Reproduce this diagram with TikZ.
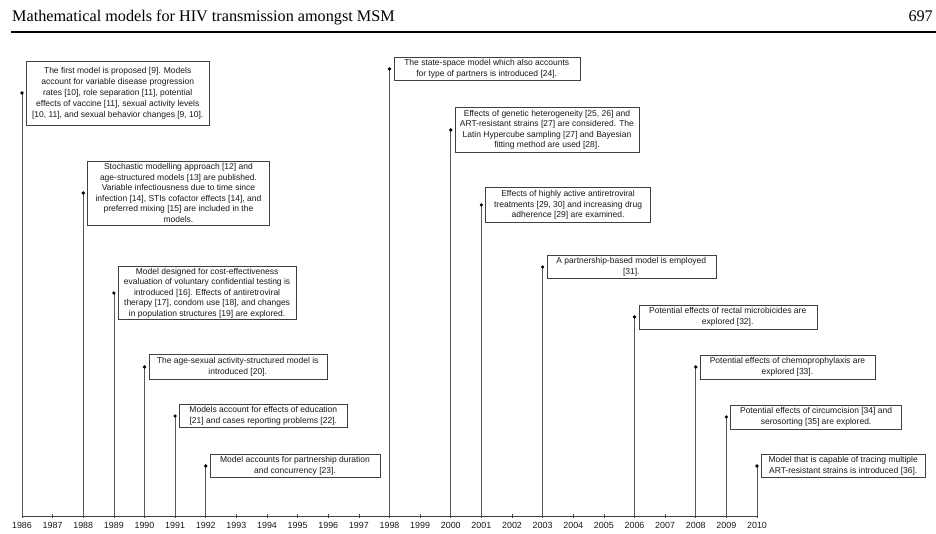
\documentclass[tikz,border=0pt]{standalone}
\usepackage{fontspec}
\setmainfont{Liberation Sans}
\newfontfamily\headfont{Liberation Serif}
\usetikzlibrary{positioning}

\begin{document}
\begin{tikzpicture}[x=1pt,y=-1pt,
   event/.style={draw=black!75,fill=white,align=center,inner sep=1pt,
      font=\fontsize{8.5}{10.5}\selectfont,text=black!90},
   stem/.style={draw=black!65,line width=0.7pt},
   yearlabel/.style={inner sep=0pt,font=\fontsize{8.9}{10}\selectfont,text=black!90}]
\useasboundingbox (0,0) rectangle (936,533);

% running head
\node[anchor=base west,inner sep=0pt,font=\headfont\fontsize{16.2}{18}\selectfont] (runhead) at (12,21)
   {Mathematical models for HIV transmission amongst MSM};
\node[anchor=base east,inner sep=0pt,font=\headfont\fontsize{16.2}{18}\selectfont] (pagenum) at (933,21) {697};
\draw[line width=2.3pt] (11,32) -- (936,32);

% time axis
\foreach \yr in {1986,...,2010} {
   \coordinate (y\yr) at ({22+(\yr-1986)*30.625},516);
   \draw[black!75,line width=0.6pt] (y\yr) ++(0,-2.5) -- ++(0,4.5);
   \node[yearlabel,below=6pt of y\yr] (l\yr) {\yr};
}
\draw[black!75,line width=0.9pt] (y1986) -- (y2010);

% anchor points of the events
\coordinate (d1986) at (y1986 |- 0,93);
\coordinate (d1988) at (y1988 |- 0,193);
\coordinate (d1989) at (y1989 |- 0,293);
\coordinate (d1990) at (y1990 |- 0,367);
\coordinate (d1991) at (y1991 |- 0,416);
\coordinate (d1992) at (y1992 |- 0,466);
\coordinate (d1998) at (y1998 |- 0,69);
\coordinate (d2000) at (y2000 |- 0,130);
\coordinate (d2001) at (y2001 |- 0,205);
\coordinate (d2003) at (y2003 |- 0,267);
\coordinate (d2006) at (y2006 |- 0,317);
\coordinate (d2008) at (y2008 |- 0,367);
\coordinate (d2009) at (y2009 |- 0,417);
\coordinate (d2010) at (y2010 |- 0,466);

\foreach \yr in {1986,1988,1989,1990,1991,1992,1998,2000,2001,2003,2006,2008,2009,2010} {
   \draw[stem] (y\yr) -- (d\yr);
   \fill (d\yr) circle[radius=1.8pt];
}

% events
\node[event,right=4pt of d1986,minimum width=183pt,minimum height=64pt,
      font=\fontsize{8.5}{10.9}\selectfont] (e1986)
   {The first model is proposed [9]. Models\\ account for variable disease progression\\
    rates [10], role separation [11], potential\\ effects of vaccine [11], sexual activity levels\\
    {[10, 11]}, and sexual behavior changes [9, 10].};
\node[event,right=4pt of d1988,minimum width=182pt,minimum height=64pt] (e1988)
   {Stochastic modelling approach [12] and\\ age-structured models [13] are published.\\
    Variable infectiousness due to time since\\ infection [14], STIs cofactor effects [14], and\\
    preferred mixing [15] are included in the\\ models.};
\node[event,right=4pt of d1989,minimum width=178pt,minimum height=53pt] (e1989)
   {Model designed for cost-effectiveness\\ evaluation of voluntary confidential testing is\\
    introduced [16]. Effects of antiretroviral\\ therapy [17], condom use [18], and changes\\
    in population structures [19] are explored.};
\node[event,right=4pt of d1990,minimum width=178pt,minimum height=25pt] (e1990)
   {The age-sexual activity-structured model is\\ introduced [20].};
\node[event,right=4pt of d1991,minimum width=168pt,minimum height=23pt] (e1991)
   {Models account for effects of education\\ {[21]} and cases reporting problems [22].};
\node[event,right=4pt of d1992,minimum width=170pt,minimum height=23pt] (e1992)
   {Model accounts for partnership duration\\ and concurrency [23].};
\node[event,right=4pt of d1998,minimum width=186pt,minimum height=23pt] (e1998)
   {The state-space model which also accounts\\ for type of partners is introduced [24].};
\node[event,right=4pt of d2000,minimum width=184pt,minimum height=45pt] (e2000)
   {Effects of genetic heterogeneity [25, 26] and\\ ART-resistant strains [27] are considered. The\\
    Latin Hypercube sampling [27] and Bayesian\\ fitting method are used [28].};
\node[event,right=4pt of d2001,minimum width=165pt,minimum height=35pt] (e2001)
   {Effects of highly active antiretroviral\\ treatments [29, 30] and increasing drug\\
    adherence [29] are examined.};
\node[event,right=4pt of d2003,minimum width=169pt,minimum height=23pt] (e2003)
   {A partnership-based model is employed\\ {[31]}.};
\node[event,right=4pt of d2006,minimum width=178pt,minimum height=24pt] (e2006)
   {Potential effects of rectal microbicides are\\ explored [32].};
\node[event,right=4pt of d2008,minimum width=175pt,minimum height=24pt] (e2008)
   {Potential effects of chemoprophylaxis are\\ explored [33].};
\node[event,right=4pt of d2009,minimum width=171pt,minimum height=24pt] (e2009)
   {Potential effects of circumcision [34] and\\ serosorting [35] are explored.};
\node[event,right=4pt of d2010,minimum width=164pt,minimum height=23pt] (e2010)
   {Model that is capable of tracing multiple\\ ART-resistant strains is introduced [36].};
\end{tikzpicture}
\end{document}
